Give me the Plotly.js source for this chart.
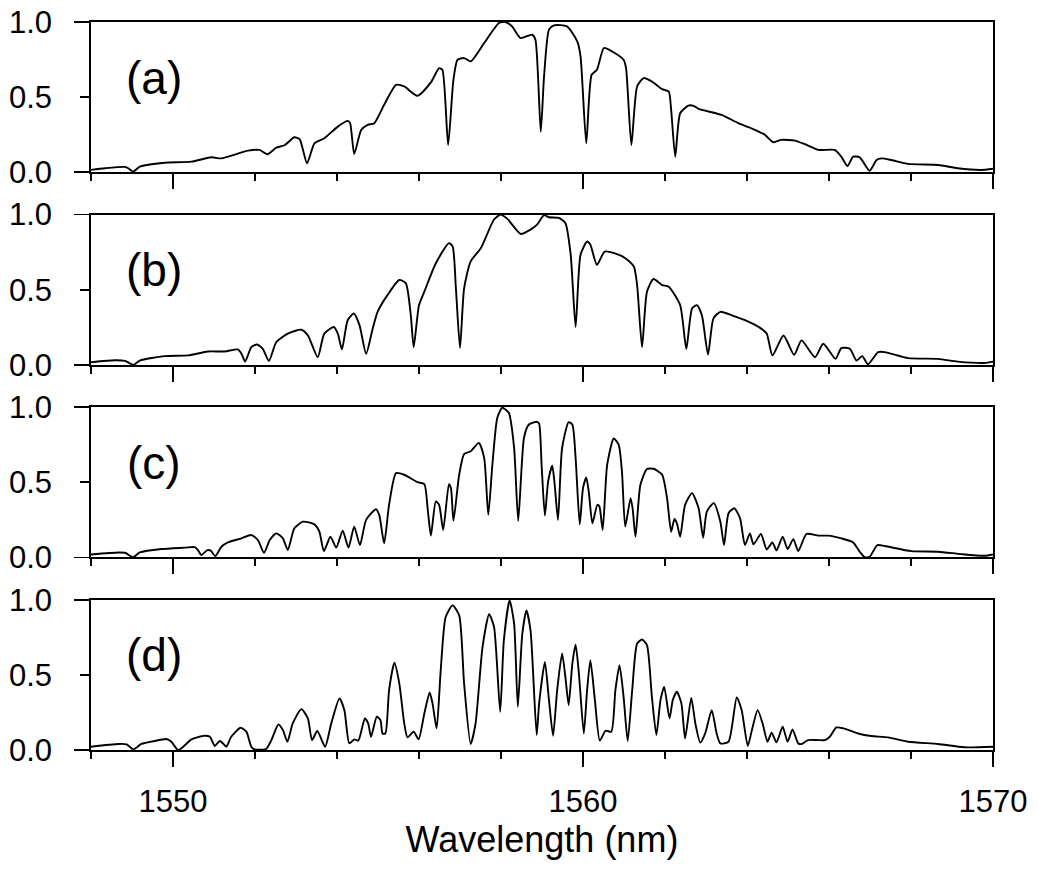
<!DOCTYPE html>
<html>
<head>
<meta charset="utf-8">
<script src="https://cdn.plot.ly/plotly-3.0.1.min.js"></script>
<style>html,body{margin:0;padding:0;background:#fff;}#chart{width:1038px;height:869px;}</style>
</head>
<body>
<div id="chart"></div>
<script>
// ---- Data ----
const panelLabels = ['(a)', '(b)', '(c)', '(d)'];
const yTickVals = [0, 0.5, 1];
const yTickText = ['0.0', '0.5', '1.0'];
const xTickVals = [1550, 1560, 1570];
const xTitle = 'Wavelength (nm)';

const wavelengthA = [1548.00,1548.34,1548.83,1548.91,1549.03,1549.19,1549.80,1550.45,1550.94,1551.18,1551.83,1552.11,1552.30,1552.52,1552.72,1552.96,1553.09,1553.27,1553.45,1553.69,1554.02,1554.26,1554.32,1554.42,1554.59,1554.75,1554.91,1555.15,1555.44,1555.64,1555.96,1556.29,1556.49,1556.57,1556.71,1556.84,1556.94,1557.10,1557.26,1557.59,1557.95,1558.11,1558.27,1558.48,1558.76,1558.84,1558.97,1559.05,1559.17,1559.29,1559.61,1559.86,1559.94,1560.08,1560.21,1560.34,1560.51,1560.71,1560.99,1561.05,1561.18,1561.32,1561.48,1561.68,1561.93,1562.09,1562.15,1562.25,1562.37,1562.57,1562.70,1562.82,1563.38,1563.79,1564.11,1564.44,1564.64,1564.84,1565.17,1565.41,1565.74,1566.14,1566.30,1566.45,1566.59,1566.75,1566.99,1567.16,1567.28,1567.52,1567.93,1568.66,1569.14,1569.71,1570.00];
const intensityA = [0.016,0.027,0.036,0.027,0.005,0.038,0.064,0.071,0.100,0.093,0.144,0.149,0.120,0.164,0.180,0.233,0.220,0.060,0.193,0.227,0.304,0.342,0.327,0.122,0.282,0.316,0.327,0.449,0.582,0.571,0.509,0.598,0.693,0.682,0.182,0.616,0.749,0.760,0.738,0.860,0.993,1.000,0.971,0.893,0.916,0.882,0.270,0.638,0.949,0.978,0.971,0.871,0.771,0.193,0.649,0.682,0.827,0.804,0.749,0.693,0.182,0.571,0.627,0.604,0.553,0.538,0.416,0.104,0.393,0.444,0.442,0.422,0.382,0.327,0.293,0.249,0.200,0.216,0.211,0.187,0.149,0.149,0.104,0.042,0.104,0.100,0.011,0.082,0.093,0.082,0.056,0.049,0.027,0.016,0.024];

const wavelengthB = [1548.00,1548.58,1548.83,1549.03,1549.19,1549.80,1550.37,1550.85,1551.26,1551.58,1551.67,1551.76,1551.91,1552.05,1552.19,1552.34,1552.52,1552.80,1553.13,1553.29,1553.53,1553.69,1553.92,1554.02,1554.12,1554.26,1554.41,1554.55,1554.71,1554.87,1554.99,1555.23,1555.52,1555.68,1555.80,1555.87,1556.00,1556.13,1556.41,1556.73,1556.82,1556.90,1557.00,1557.10,1557.26,1557.51,1557.83,1557.99,1558.15,1558.48,1558.72,1558.88,1559.05,1559.17,1559.41,1559.57,1559.70,1559.82,1559.94,1560.10,1560.18,1560.34,1560.53,1560.83,1561.03,1561.24,1561.32,1561.44,1561.56,1561.72,1561.93,1562.09,1562.37,1562.52,1562.66,1562.78,1562.90,1563.05,1563.18,1563.35,1563.63,1563.95,1564.32,1564.48,1564.62,1564.89,1565.15,1565.33,1565.66,1565.86,1566.16,1566.30,1566.51,1566.67,1566.81,1566.95,1567.20,1567.36,1567.93,1568.66,1569.14,1569.79,1570.00];
const intensityB = [0.018,0.031,0.027,0.000,0.029,0.058,0.063,0.089,0.089,0.103,0.074,0.022,0.118,0.136,0.107,0.027,0.152,0.208,0.234,0.196,0.051,0.208,0.252,0.208,0.103,0.297,0.342,0.263,0.074,0.241,0.353,0.464,0.565,0.542,0.330,0.118,0.397,0.487,0.676,0.810,0.788,0.509,0.112,0.509,0.688,0.777,0.967,1.000,0.973,0.871,0.900,0.933,0.996,0.982,0.978,0.944,0.732,0.252,0.732,0.821,0.799,0.665,0.754,0.737,0.710,0.654,0.531,0.118,0.487,0.571,0.531,0.520,0.397,0.107,0.375,0.397,0.330,0.069,0.308,0.353,0.330,0.297,0.246,0.208,0.063,0.196,0.067,0.163,0.051,0.141,0.040,0.112,0.107,0.029,0.058,0.004,0.085,0.085,0.045,0.040,0.022,0.013,0.022];

const wavelengthC = [1548.00,1548.67,1548.83,1549.03,1549.19,1549.72,1550.29,1550.53,1550.61,1550.69,1550.84,1550.92,1551.03,1551.18,1551.34,1551.67,1551.91,1552.07,1552.22,1552.36,1552.52,1552.68,1552.80,1552.96,1553.17,1553.45,1553.57,1553.68,1553.84,1553.98,1554.14,1554.28,1554.42,1554.56,1554.71,1554.95,1555.03,1555.15,1555.27,1555.44,1555.64,1555.96,1556.13,1556.21,1556.29,1556.41,1556.49,1556.59,1556.73,1556.78,1556.84,1556.98,1557.10,1557.26,1557.46,1557.59,1557.69,1557.79,1557.91,1558.03,1558.19,1558.32,1558.42,1558.56,1558.68,1558.88,1558.93,1558.99,1559.07,1559.15,1559.25,1559.31,1559.39,1559.49,1559.65,1559.74,1559.82,1559.92,1560.00,1560.08,1560.14,1560.23,1560.35,1560.40,1560.48,1560.59,1560.75,1560.87,1560.95,1561.03,1561.16,1561.21,1561.28,1561.40,1561.56,1561.72,1561.93,1562.05,1562.15,1562.23,1562.29,1562.37,1562.49,1562.66,1562.82,1562.93,1563.02,1563.19,1563.35,1563.44,1563.55,1563.69,1563.83,1563.95,1564.07,1564.16,1564.34,1564.48,1564.62,1564.72,1564.87,1564.99,1565.13,1565.25,1565.45,1565.74,1565.98,1566.30,1566.59,1566.75,1566.87,1566.99,1567.18,1567.36,1568.01,1568.66,1569.22,1569.79,1570.00];
const intensityC = [0.020,0.033,0.031,0.002,0.033,0.056,0.065,0.069,0.049,0.016,0.049,0.045,0.009,0.071,0.100,0.127,0.149,0.116,0.031,0.116,0.160,0.127,0.049,0.194,0.238,0.220,0.171,0.042,0.138,0.065,0.178,0.065,0.205,0.082,0.250,0.321,0.283,0.094,0.350,0.561,0.550,0.501,0.488,0.327,0.145,0.372,0.350,0.183,0.488,0.461,0.243,0.550,0.688,0.706,0.762,0.661,0.283,0.617,0.929,0.996,0.962,0.728,0.243,0.795,0.884,0.902,0.890,0.617,0.278,0.506,0.610,0.483,0.249,0.728,0.900,0.884,0.661,0.220,0.461,0.532,0.439,0.227,0.350,0.339,0.183,0.617,0.791,0.751,0.572,0.205,0.394,0.327,0.138,0.483,0.588,0.590,0.550,0.394,0.171,0.256,0.227,0.138,0.350,0.428,0.327,0.131,0.305,0.361,0.238,0.082,0.294,0.327,0.261,0.082,0.160,0.087,0.156,0.053,0.100,0.047,0.138,0.056,0.122,0.042,0.156,0.145,0.145,0.127,0.100,0.038,0.002,0.004,0.082,0.076,0.042,0.038,0.022,0.011,0.020];

const wavelengthD = [1548.00,1548.67,1548.87,1549.03,1549.23,1549.56,1549.84,1549.96,1550.12,1550.25,1550.45,1550.77,1550.90,1551.02,1551.14,1551.22,1551.30,1551.42,1551.65,1551.79,1551.91,1551.99,1552.27,1552.40,1552.57,1552.68,1552.79,1552.92,1553.13,1553.29,1553.39,1553.52,1553.71,1553.86,1554.06,1554.18,1554.30,1554.42,1554.52,1554.68,1554.76,1554.83,1554.97,1555.06,1555.11,1555.18,1555.27,1555.40,1555.52,1555.64,1555.72,1555.87,1555.99,1556.13,1556.26,1556.33,1556.43,1556.53,1556.65,1556.82,1556.98,1557.10,1557.26,1557.38,1557.55,1557.71,1557.83,1557.98,1558.07,1558.21,1558.32,1558.41,1558.52,1558.62,1558.72,1558.87,1558.93,1559.07,1559.17,1559.27,1559.37,1559.49,1559.57,1559.65,1559.74,1559.82,1559.90,1560.02,1560.10,1560.18,1560.29,1560.41,1560.55,1560.69,1560.79,1560.89,1560.99,1561.09,1561.20,1561.32,1561.44,1561.56,1561.68,1561.79,1561.89,1561.98,1562.11,1562.19,1562.29,1562.40,1562.49,1562.64,1562.74,1562.86,1562.98,1563.14,1563.26,1563.35,1563.55,1563.75,1563.87,1564.02,1564.12,1564.26,1564.38,1564.50,1564.60,1564.72,1564.87,1564.99,1565.11,1565.25,1565.33,1565.49,1565.74,1565.90,1566.02,1566.18,1566.35,1566.71,1567.03,1567.44,1567.93,1568.66,1569.30,1570.00];
const intensityD = [0.022,0.040,0.038,0.004,0.040,0.060,0.073,0.055,0.000,0.022,0.071,0.095,0.088,0.027,0.060,0.044,0.022,0.088,0.148,0.122,0.022,0.004,0.007,0.066,0.170,0.133,0.055,0.177,0.272,0.210,0.066,0.126,0.022,0.177,0.343,0.265,0.044,0.071,0.062,0.210,0.177,0.088,0.221,0.199,0.110,0.110,0.398,0.580,0.442,0.177,0.084,0.122,0.071,0.243,0.383,0.310,0.144,0.531,0.885,0.962,0.896,0.442,0.040,0.177,0.686,0.903,0.819,0.254,0.730,0.996,0.841,0.288,0.774,0.929,0.796,0.100,0.310,0.586,0.332,0.095,0.398,0.642,0.487,0.299,0.575,0.701,0.509,0.110,0.398,0.597,0.332,0.062,0.128,0.122,0.398,0.564,0.354,0.060,0.398,0.708,0.735,0.697,0.354,0.100,0.332,0.420,0.210,0.332,0.387,0.310,0.077,0.347,0.177,0.049,0.110,0.265,0.110,0.044,0.055,0.350,0.265,0.027,0.133,0.265,0.177,0.055,0.115,0.051,0.155,0.055,0.137,0.044,0.040,0.066,0.066,0.066,0.088,0.150,0.144,0.110,0.093,0.084,0.055,0.040,0.018,0.022];

const wavelengths = [wavelengthA, wavelengthB, wavelengthC, wavelengthD];
const intensities = [intensityA, intensityB, intensityC, intensityD];

// ---- Layout ----
const FONT = '"Liberation Sans", Arial, Helvetica, sans-serif';
const domains = [[0.7935, 1.0], [0.529, 0.7355], [0.2645, 0.471], [0.0, 0.2065]];

const traces = [];
const layout = {
  width: 1038, height: 869,
  margin: {l: 91, r: 45, t: 22, b: 119, pad: 0},
  paper_bgcolor: '#fff', plot_bgcolor: '#fff',
  showlegend: false,
  font: {family: FONT, color: '#000', size: 30},
  annotations: []
};

for (let i = 0; i < 4; i++) {
  const sfx = i === 0 ? '' : String(i + 1);
  traces.push({
    type: 'scatter', mode: 'lines',
    x: wavelengths[i], y: intensities[i],
    xaxis: 'x' + sfx, yaxis: 'y' + sfx,
    line: {color: '#000', width: 1.9, shape: 'spline', smoothing: 0.6},
    hoverinfo: 'skip'
  });
  const isBottom = i === 3;
  layout['xaxis' + sfx] = {
    domain: [0, 1], anchor: 'y' + sfx,
    range: [1548, 1570], autorange: false,
    showline: true, mirror: true, linecolor: '#000', linewidth: 1.8,
    showgrid: false, zeroline: false,
    ticks: 'outside', tickmode: 'array', tickvals: xTickVals,
    ticklen: 15, tickwidth: 1.8, tickcolor: '#000',
    minor: {tickmode: 'linear', tick0: 1548, dtick: 2, ticks: 'outside', ticklen: 7, tickwidth: 1.6, tickcolor: '#000', showgrid: false},
    showticklabels: isBottom,
    tickfont: {family: FONT, size: 31, color: '#000'},
    ticklabelstandoff: 8,
    title: isBottom ? {text: xTitle, font: {family: FONT, size: 36, color: '#000'}, standoff: 6} : {text: ''}
  };
  layout['yaxis' + sfx] = {
    domain: domains[i], anchor: 'x' + sfx,
    range: [0, 1], autorange: false,
    showline: true, mirror: true, linecolor: '#000', linewidth: 1.8,
    showgrid: false, zeroline: false,
    ticks: 'outside', tickmode: 'array', tickvals: yTickVals, ticktext: yTickText,
    ticklen: 9, tickwidth: 1.8, tickcolor: '#000',
    minor: {tickmode: 'array', tickvals: [0, 1], ticks: 'outside', ticklen: 15, tickwidth: 1.8, tickcolor: '#000', showgrid: false},
    tickfont: {family: FONT, size: 31, color: '#000'},
    ticklabelstandoff: 22
  };
  layout.annotations.push({
    text: panelLabels[i], showarrow: false,
    xref: 'x' + sfx + ' domain', yref: 'y' + sfx + ' domain',
    x: 0.07, y: 0.63, xanchor: 'center', yanchor: 'middle',
    font: {family: FONT, size: 46, color: '#000'}
  });
}

Plotly.newPlot('chart', traces, layout, {displayModeBar: false, staticPlot: true});
</script>
</body>
</html>
